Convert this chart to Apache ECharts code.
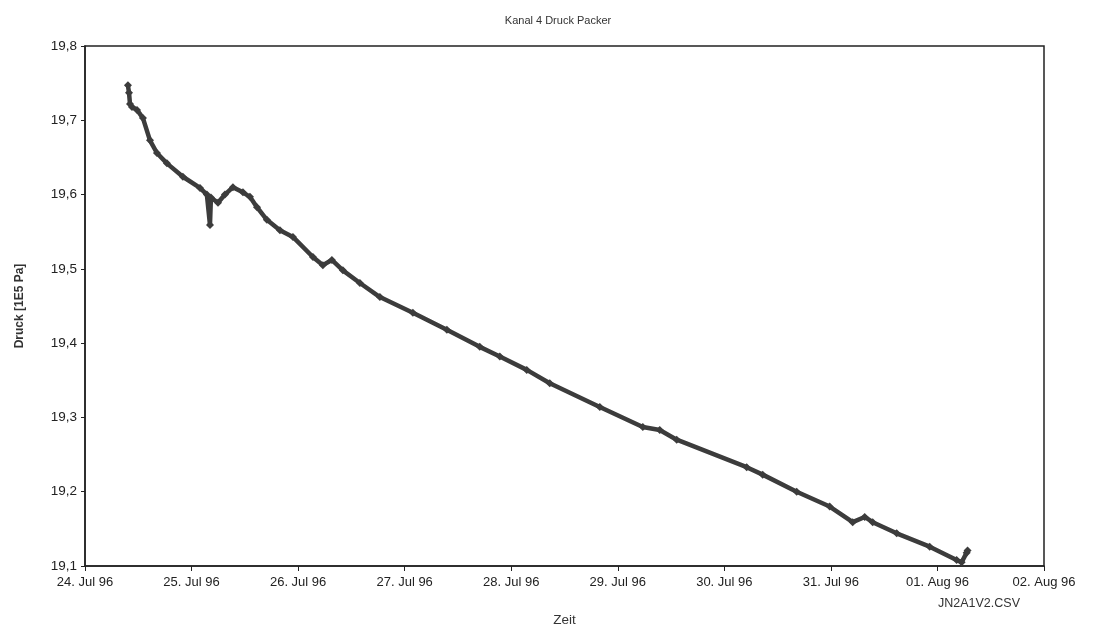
<!DOCTYPE html>
<html>
<head>
<meta charset="utf-8">
<script src="https://cdn.jsdelivr.net/npm/echarts@6/dist/echarts.min.js"></script>
<style>
html,body{margin:0;padding:0;background:#fff;}
#chart{width:1093px;height:632px;}
</style>
</head>
<body>
<div id="chart"></div>
<script>
// ---- data ----
const times = [
  '1996-07-24 09:40','1996-07-24 09:55','1996-07-24 10:08','1996-07-24 10:35','1996-07-24 11:43',
  '1996-07-24 13:03','1996-07-24 14:38','1996-07-24 16:12','1996-07-24 18:27','1996-07-24 22:03',
  '1996-07-25 01:54','1996-07-25 03:27','1996-07-25 04:09','1996-07-25 04:22','1996-07-25 05:57',
  '1996-07-25 07:31','1996-07-25 09:19','1996-07-25 11:34','1996-07-25 13:09','1996-07-25 14:44',
  '1996-07-25 16:58','1996-07-25 19:54','1996-07-25 22:50','1996-07-26 03:20','1996-07-26 05:35',
  '1996-07-26 07:36','1996-07-26 10:05','1996-07-26 13:55','1996-07-26 18:25','1996-07-27 01:51',
  '1996-07-27 09:30','1996-07-27 16:55','1996-07-27 21:26','1996-07-28 03:30','1996-07-28 08:41',
  '1996-07-28 19:57','1996-07-29 05:38','1996-07-29 09:27','1996-07-29 13:16','1996-07-30 05:02',
  '1996-07-30 08:38','1996-07-30 16:18','1996-07-30 23:44','1996-07-31 04:55','1996-07-31 07:37',
  '1996-07-31 09:25','1996-07-31 14:49','1996-07-31 22:15','1996-08-01 04:19','1996-08-01 05:27',
  '1996-08-01 06:35','1996-08-01 06:47'
];
const pressure = [
  19.747,19.737,19.722,19.718,19.714,
  19.703,19.673,19.656,19.642,19.624,
  19.609,19.600,19.559,19.596,19.589,
  19.600,19.610,19.603,19.597,19.583,
  19.566,19.552,19.543,19.516,19.505,
  19.512,19.498,19.481,19.462,19.441,
  19.418,19.395,19.382,19.364,19.346,
  19.314,19.287,19.283,19.270,19.233,
  19.223,19.200,19.180,19.159,19.166,
  19.159,19.144,19.126,19.108,19.105,
  19.118,19.121
];
const xTickLabels = ['24. Jul 96','25. Jul 96','26. Jul 96','27. Jul 96','28. Jul 96',
  '29. Jul 96','30. Jul 96','31. Jul 96','01. Aug 96','02. Aug 96'];
const titleText = 'Kanal 4 Druck Packer';
const xName = 'Zeit';
const yName = 'Druck [1E5 Pa]';
const fileName = 'JN2A1V2.CSV';

// ---- build ----
const DAY = 86400000;
function parseT(s){
  const [d,t] = s.split(' ');
  const [Y,M,D] = d.split('-').map(Number);
  const [h,m] = t.split(':').map(Number);
  return Date.UTC(Y, M-1, D, h, m);
}
const xMin = Date.UTC(1996,6,24);
const xMax = xMin + 9*DAY;
const seriesData = times.map((t,i)=>[parseT(t), pressure[i]]);
const font = '"Liberation Sans", Arial, sans-serif';

const chart = echarts.init(document.getElementById('chart'));
chart.setOption({
  animation:false,
  backgroundColor:'#fff',
  title:{text:titleText,left:553,top:10,textAlign:'center',
    textStyle:{fontFamily:font,fontSize:11,fontWeight:'normal',color:'#333'}},
  grid:{left:85,right:49,top:46,bottom:66,show:true,borderColor:'#222',borderWidth:1.5,backgroundColor:'transparent'},
  xAxis:{
    type:'value',min:xMin,max:xMax,interval:DAY,
    name:xName,nameLocation:'middle',nameGap:47,
    nameTextStyle:{fontFamily:font,fontSize:13.5,color:'#333'},
    axisLine:{lineStyle:{color:'#222',width:1.5}},
    axisTick:{show:true,length:5,lineStyle:{color:'#222'}},
    splitLine:{show:false},
    axisLabel:{fontFamily:font,fontSize:13,color:'#222',margin:10,
      formatter:(v)=>xTickLabels[Math.round((v-xMin)/DAY)]||''}
  },
  yAxis:{
    type:'value',min:19.1,max:19.8,interval:0.1,
    name:yName,nameLocation:'middle',nameGap:59,nameRotate:90,
    nameTextStyle:{fontFamily:font,fontSize:12,fontWeight:'bold',color:'#333'},
    axisLine:{show:true,lineStyle:{color:'#222',width:1.5}},
    axisTick:{show:true,length:4,lineStyle:{color:'#222'}},
    splitLine:{show:false},
    axisLabel:{fontFamily:font,fontSize:13.5,color:'#222',margin:8,
      formatter:(v)=>v.toFixed(1).replace('.',',')}
  },
  graphic:[{type:'text',left:938,top:597,style:{text:fileName,font:'12.5px '+font,fill:'#333'}}],
  series:[{
    type:'line',data:seriesData,
    lineStyle:{color:'#3c3c3c',width:4.5},
    symbol:'diamond',symbolSize:8,showSymbol:true,
    itemStyle:{color:'#3c3c3c'},
    smooth:false
  }]
});
</script>
</body>
</html>
